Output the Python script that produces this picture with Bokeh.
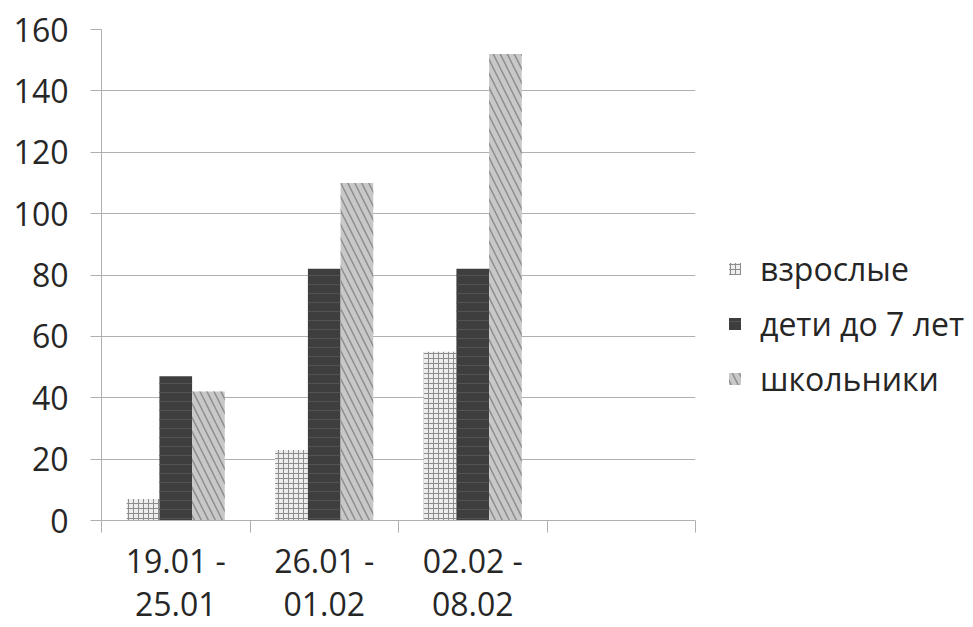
import numpy as np
from bokeh.plotting import figure
from bokeh.models import ColumnDataSource, FixedTicker, Legend, LegendItem, Range1d
from bokeh.embed import file_html
from bokeh.resources import INLINE

# ---- data ----
categories = ["19.01 -\n25.01", "26.01 -\n01.02", "02.02 -\n08.02", ""]
series_names = ["взрослые", "дети до 7 лет", "школьники"]
adults = [7, 23, 55]
kids = [47, 82, 82]
pupils = [42, 110, 152]
y_ticks = [0, 20, 40, 60, 80, 100, 120, 140, 160]

FONT = "Open Sans"
TXT = "#262626"
GRID = "#b0b0b0"

p = figure(width=957, height=627, frame_width=594, frame_height=491,
           output_backend="svg", toolbar_location=None,
           x_range=Range1d(0, len(categories)), y_range=Range1d(0, 160),
           min_border_left=101, min_border_right=0, min_border_top=29, min_border_bottom=0)
p.outline_line_color = None
p.background_fill_color = "white"
p.border_fill_color = "white"

centers = np.arange(len(adults)) + 0.5
bw = 0.22
styles = [
    dict(fill_color="#ededed", hatch_pattern="+", hatch_color="#8c8c8c", hatch_scale=5, hatch_weight=1),
    dict(fill_color="#3e3e3e", hatch_pattern="-", hatch_color="#535353", hatch_scale=9, hatch_weight=1),
    dict(fill_color="#c8c8c8", hatch_pattern="\\", hatch_color="#8e8e8e", hatch_scale=14, hatch_weight=1.5),
]
renderers = []
for k, vals in enumerate([adults, kids, pupils]):
    src = ColumnDataSource(dict(x=centers + (k - 1) * bw, top=vals))
    r = p.vbar(x="x", top="top", bottom=0, width=bw, source=src, line_color=None, **styles[k])
    renderers.append(r)

# axes
xa = p.xaxis[0]
xa.ticker = FixedTicker(ticks=list(np.arange(len(categories)) + 0.5),
                        minor_ticks=list(range(len(categories) + 1)))
xa.major_label_overrides = {float(c): lab for c, lab in zip(np.arange(len(categories)) + 0.5, categories)}
xa.major_tick_out = 0
xa.major_tick_in = 0
xa.minor_tick_out = 12
xa.minor_tick_in = 0
xa.minor_tick_line_color = GRID
xa.axis_line_color = GRID
xa.major_label_text_font = FONT
xa.major_label_text_font_size = "32px"
xa.major_label_text_line_height = 1.0
xa.major_label_text_color = TXT
xa.major_label_standoff = 6

ya = p.yaxis[0]
ya.ticker = FixedTicker(ticks=y_ticks)
ya.major_tick_out = 11
ya.major_tick_in = 0
ya.minor_tick_out = 0
ya.minor_tick_in = 0
ya.major_tick_line_color = GRID
ya.axis_line_color = GRID
ya.major_label_text_font = FONT
ya.major_label_text_font_size = "32px"
ya.major_label_text_color = TXT
ya.major_label_standoff = 22

p.xgrid.grid_line_color = None
p.ygrid.grid_line_color = GRID
p.ygrid.ticker = FixedTicker(ticks=y_ticks)

legend = Legend(items=[LegendItem(label=n, renderers=[r]) for n, r in zip(series_names, renderers)],
                location=(32, 120), border_line_color=None, background_fill_alpha=0,
                glyph_width=15, glyph_height=15, label_text_font=FONT, label_text_font_size="32px",
                label_text_color=TXT, spacing=12, margin=0, padding=5, label_standoff=18)
p.add_layout(legend, "right")

open("out.html", "w").write(file_html(p, INLINE))
